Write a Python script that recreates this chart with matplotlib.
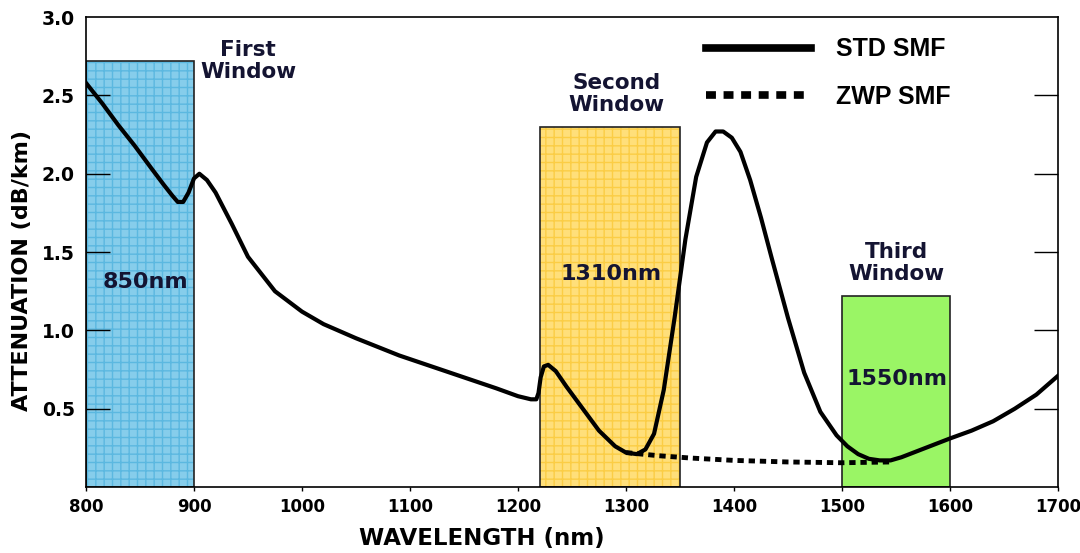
import matplotlib.pyplot as plt
from matplotlib.patches import Rectangle

# STD SMF attenuation curve
std_nm = [800, 815, 830, 845, 860, 872, 880, 885, 890, 895, 900, 905, 912, 920, 935, 950,
          975, 1000, 1020, 1050, 1090, 1120, 1150, 1180, 1200, 1212, 1217, 1219, 1221, 1224,
          1228, 1235, 1245, 1260, 1275, 1290, 1300, 1310, 1318, 1326, 1335, 1345, 1355,
          1365, 1375, 1383, 1390, 1398, 1406, 1415, 1425, 1435, 1450, 1465, 1480, 1495,
          1505, 1515, 1525, 1535, 1545, 1555, 1570, 1585, 1600, 1620, 1640, 1660, 1680, 1700]
std_db = [2.58, 2.45, 2.31, 2.18, 2.04, 1.93, 1.86, 1.82, 1.82, 1.88, 1.97, 2.00, 1.96, 1.88,
          1.68, 1.47, 1.25, 1.12, 1.04, 0.95, 0.84, 0.77, 0.70, 0.63, 0.58, 0.56, 0.56, 0.60,
          0.70, 0.77, 0.78, 0.74, 0.64, 0.50, 0.36, 0.26, 0.22, 0.21, 0.24, 0.34, 0.62, 1.08,
          1.58, 1.98, 2.20, 2.27, 2.27, 2.23, 2.14, 1.96, 1.72, 1.46, 1.08, 0.73, 0.48, 0.33,
          0.26, 0.21, 0.18, 0.17, 0.17, 0.19, 0.23, 0.27, 0.31, 0.36, 0.42, 0.50, 0.59, 0.71]

# ZWP SMF (water peak removed)
zwp_nm = [1300, 1330, 1360, 1400, 1450, 1500, 1545]
zwp_db = [0.22, 0.20, 0.185, 0.17, 0.16, 0.155, 0.16]

# transmission windows
win_start = [800, 1220, 1500]
win_end = [900, 1350, 1600]
win_top = [2.72, 2.30, 1.22]
win_face = ['#86cdeb', '#ffdf7a', '#9af565']
win_hatch = ['#5bb8e0', '#fbcd45', None]
win_label = ['850nm', '1310nm', '1550nm']
win_label_pos = [(855, 1.31), (1286, 1.36), (1551, 0.69)]
win_title = ['First\nWindow', 'Second\nWindow', 'Third\nWindow']
win_title_pos = [(950, 2.72), (1291, 2.51), (1550, 1.43)]

txt_col = '#141432'

plt.rcParams['hatch.linewidth'] = 1.0
fig = plt.figure(figsize=(10.8, 5.53), dpi=100)
ax = fig.add_axes([0.0796, 0.1193, 0.9, 0.8497])

for i in range(3):
    w = win_end[i] - win_start[i]
    ax.add_patch(Rectangle((win_start[i], 0), w, win_top[i], facecolor=win_face[i],
                           edgecolor='none', zorder=1))
    if win_hatch[i]:
        ax.add_patch(Rectangle((win_start[i], 0), w, win_top[i], facecolor='none',
                               edgecolor=win_hatch[i], hatch='++', linewidth=0, zorder=1.1))
    ax.add_patch(Rectangle((win_start[i], 0), w, win_top[i], facecolor='none',
                           edgecolor='#222222', linewidth=1.2, zorder=1.2))
    ax.text(win_label_pos[i][0], win_label_pos[i][1], win_label[i], ha='center', va='center',
            fontsize=16, fontweight='bold', color=txt_col, zorder=3)
    ax.text(win_title_pos[i][0], win_title_pos[i][1], win_title[i], ha='center', va='center',
            fontsize=15.5, fontweight='bold', color=txt_col, linespacing=1.1, zorder=3)

ax.plot(std_nm, std_db, color='black', lw=3, solid_joinstyle='round', zorder=4, label='STD SMF')
ax.plot(zwp_nm, zwp_db, color='black', lw=3.5, linestyle=(0, (1.3, 1.0)), zorder=4,
        label='ZWP SMF')

leg = ax.legend(loc='upper right', bbox_to_anchor=(0.913, 1.005), frameon=False,
                handlelength=4.2, handletextpad=1.0, labelspacing=0.95,
                prop={'family': 'Liberation Sans', 'weight': 'bold', 'size': 18})
for ln in leg.get_lines():
    ln.set_linewidth(5.5)

ax.set_xlim(800, 1700)
ax.set_ylim(0, 3.0)
ax.set_xticks(range(800, 1701, 100))
ax.set_yticks([0.5, 1.0, 1.5, 2.0, 2.5, 3.0])
ax.set_yticklabels(['0.5', '1.0', '1.5', '2.0', '2.5', '3.0'])
ax.tick_params(axis='y', direction='in', length=17, width=1, left=True, right=True,
               labelsize=13.5, pad=8)
ax.tick_params(axis='x', direction='out', length=3, width=1, labelsize=12, pad=5)
top_tick = ax.yaxis.get_major_ticks()[-1]
top_tick.tick1line.set_visible(False)
top_tick.tick2line.set_visible(False)
for lab in ax.get_yticklabels() + ax.get_xticklabels():
    lab.set_fontweight('bold')
for s in ax.spines.values():
    s.set_linewidth(1.2)

ax.set_xlabel('WAVELENGTH (nm)', fontsize=16.5, fontweight='bold')
ax.xaxis.set_label_coords(0.407, -0.085)
ax.set_ylabel('ATTENUATION (dB/km)', fontsize=16, fontweight='bold')
ax.yaxis.set_label_coords(-0.056, 0.46)

fig.savefig('out.png', dpi=100)
